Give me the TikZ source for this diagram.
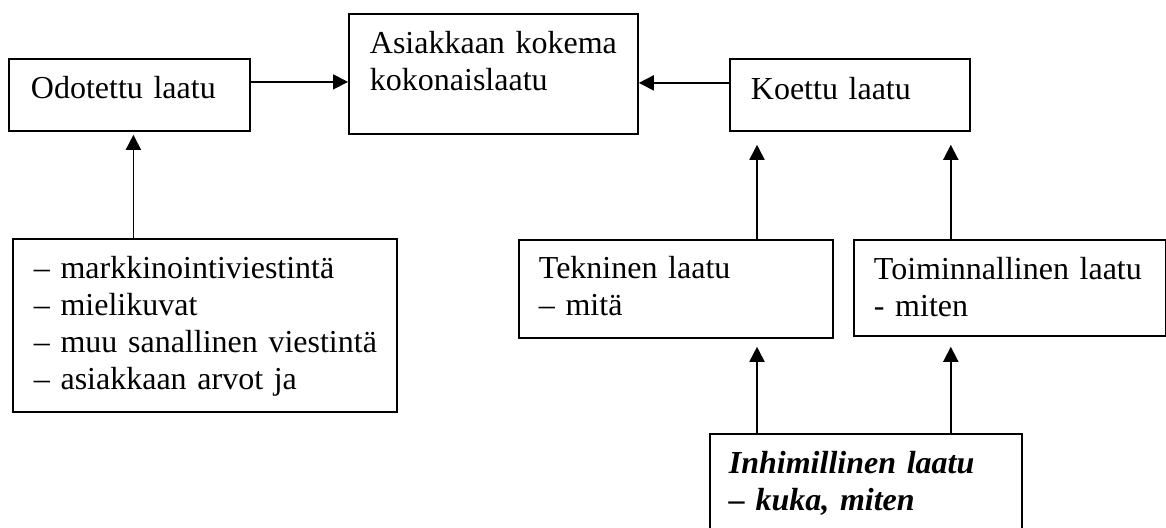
\documentclass[tikz,border=0pt]{standalone}
\usepackage{fontspec}
\setmainfont{Liberation Serif}
\usetikzlibrary{arrows.meta, calc}

\begin{document}
\begin{tikzpicture}[x=1pt, y=-1pt,
  laatikko/.style={draw, line width=1.8pt, anchor=north west, inner ysep=0pt,
    align=left, font=\fontsize{32}{37}\selectfont, text height=40pt},
  nuoli/.style={line width=1.8pt, -{Triangle[length=15pt,width=15pt]}}]
\useasboundingbox (0,0) rectangle (1166,527);
\clip (0,0) rectangle (1166,527);

\node[laatikko, inner xsep=22pt, text width=197pt, text depth=32pt] (odotettu) at (8,58) {Odotettu~laatu};
\node[laatikko, inner xsep=21pt, text width=247pt, text depth=80pt] (kokonais) at (348,13) {\mbox{Asiakkaan kokema}\\kokonaislaatu};
\node[laatikko, inner xsep=21pt, text width=198pt, text height=41pt, text depth=31pt] (koettu) at (729,58) {Koettu~laatu};
\node[laatikko, inner xsep=21pt, text width=342pt, text depth=133pt] (lista) at (12,238)
  {--~markkinointiviestintä\\--~mielikuvat\\\mbox{-- muu sanallinen viestintä}\\--~asiakkaan~arvot~ja};
\node[laatikko, inner xsep=20pt, text width=274pt, text height=39pt, text depth=59pt] (tekninen) at (518,239) {Tekninen~laatu\\--~mitä};
\node[laatikko, inner xsep=20pt, text width=272pt, text depth=56pt] (toiminnallinen) at (853,239) {\mbox{Toiminnallinen laatu}\\-~miten};
\node[laatikko, inner xsep=19pt, text width=274pt, text depth=90pt, font=\fontsize{32}{37}\selectfont\bfseries\itshape] (inhimillinen) at (709,433)
  {Inhimillinen~laatu\\--~kuka,~miten};

\draw[nuoli] ([yshift=13pt]odotettu.east) -- ([yshift=13pt]odotettu.east -| kokonais.west);
\draw[nuoli] ([yshift=12pt]koettu.west) -- ([yshift=12pt]koettu.west -| kokonais.east);
\draw[nuoli, shorten >=3pt] ([xshift=4pt]odotettu.south |- lista.north) -- ([xshift=4pt]odotettu.south);
\draw[nuoli, shorten >=13pt] ([xshift=28pt]koettu.south west |- tekninen.north) -- ([xshift=28pt]koettu.south west);
\draw[nuoli, shorten >=13pt] ([xshift=-20pt]koettu.south east |- toiminnallinen.north) -- ([xshift=-20pt]koettu.south east);
\draw[nuoli, shorten >=8pt] ([xshift=48pt]inhimillinen.north west) -- ([xshift=48pt]inhimillinen.north west |- tekninen.south);
\draw[nuoli, shorten >=10pt] ([xshift=-72pt]inhimillinen.north east) -- ([xshift=-72pt]inhimillinen.north east |- toiminnallinen.south);
\end{tikzpicture}
\end{document}
